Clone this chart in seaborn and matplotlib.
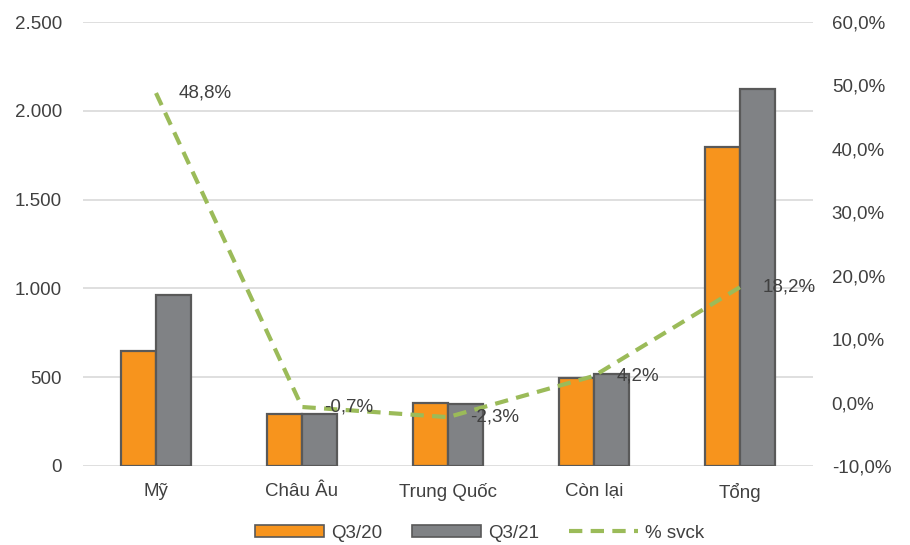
import numpy as np
import pandas as pd
import matplotlib
matplotlib.use("Agg")
import matplotlib.pyplot as plt
from matplotlib.patches import Patch
from matplotlib.lines import Line2D
from matplotlib.ticker import FuncFormatter, MultipleLocator
import seaborn as sns

categories = ["Mỹ", "Châu Âu", "Trung Quốc", "Còn lại", "Tổng"]
q3_20 = [645, 293, 356, 498, 1798]
q3_21 = [960, 291, 348, 519, 2125]
yoy_pct = [48.8, -0.7, -2.3, 4.2, 18.2]
series_names = ["Q3/20", "Q3/21"]
line_name = "% svck"

ORANGE = "#F7941D"
GREY = "#808285"
EDGE = "#595959"
GREEN = "#9BBB59"
TEXT = "#404040"
FS = 13.5

sns.set_theme(style="white")
plt.rcParams["font.family"] = ["Liberation Sans", "DejaVu Sans"]
plt.rcParams["font.size"] = FS

df = pd.DataFrame({
    "cat": categories * 2,
    "series": [series_names[0]] * len(categories) + [series_names[1]] * len(categories),
    "value": q3_20 + q3_21,
})

fig = plt.figure(figsize=(9.1, 5.45), dpi=100)
ax = fig.add_axes([0.0912, 0.145, 0.8022, 0.8146])

sns.barplot(data=df, x="cat", y="value", hue="series", order=categories,
            hue_order=series_names, palette=[ORANGE, GREY], saturation=1,
            width=0.48, edgecolor=EDGE, linewidth=1.6, ax=ax, legend=False,
            zorder=3)

ax.set_ylim(0, 2500)
ax.yaxis.set_major_locator(MultipleLocator(500))
ax.yaxis.set_major_formatter(FuncFormatter(lambda v, p: f"{int(v):,}".replace(",", ".")))
ax.set_xlim(-0.5, len(categories) - 0.5)
ax.grid(axis="y", color="#D9D9D9", linewidth=1.2, zorder=0)
ax.set_axisbelow(True)
for s in ax.spines.values():
    s.set_visible(False)
ax.set_xlabel("")
ax.set_ylabel("")
ax.tick_params(axis="both", length=0, labelsize=FS, colors=TEXT)
ax.tick_params(axis="y", pad=15)
ax.tick_params(axis="x", pad=12)

ax2 = ax.twinx()
pos = np.arange(len(categories))
sns.lineplot(x=pos, y=yoy_pct, ax=ax2, color=GREEN, linewidth=3.0,
             linestyle=(0, (3.2, 2.0)), zorder=4)
ax2.set_ylim(-10, 60)
ax2.yaxis.set_major_locator(MultipleLocator(10))
ax2.yaxis.set_major_formatter(FuncFormatter(lambda v, p: f"{v:.1f}%".replace(".", ",")))
for s in ax2.spines.values():
    s.set_visible(False)
ax2.tick_params(axis="y", length=0, labelsize=FS, colors=TEXT, pad=13.5)
ax2.set_ylabel("")
ax2.grid(False)

for x, v in zip(pos, yoy_pct):
    ax2.annotate(f"{v:.1f}%".replace(".", ","), (x, v), xytext=(16, 0),
                 textcoords="offset points", ha="left", va="center",
                 fontsize=FS, color=TEXT, zorder=5)

handles = [
    Patch(facecolor=ORANGE, edgecolor=EDGE, linewidth=1.2),
    Patch(facecolor=GREY, edgecolor=EDGE, linewidth=1.2),
    Line2D([0], [0], color=GREEN, linewidth=3.0, linestyle=(0, (3.2, 2.0))),
]
fig.legend(handles, series_names + [line_name], loc="center", ncol=3,
           bbox_to_anchor=(0.527, 0.022), frameon=False, fontsize=FS,
           handlelength=3.7, handleheight=0.55, handletextpad=0.35,
           columnspacing=1.6, labelcolor=TEXT)

fig.savefig("out.png", dpi=100)
